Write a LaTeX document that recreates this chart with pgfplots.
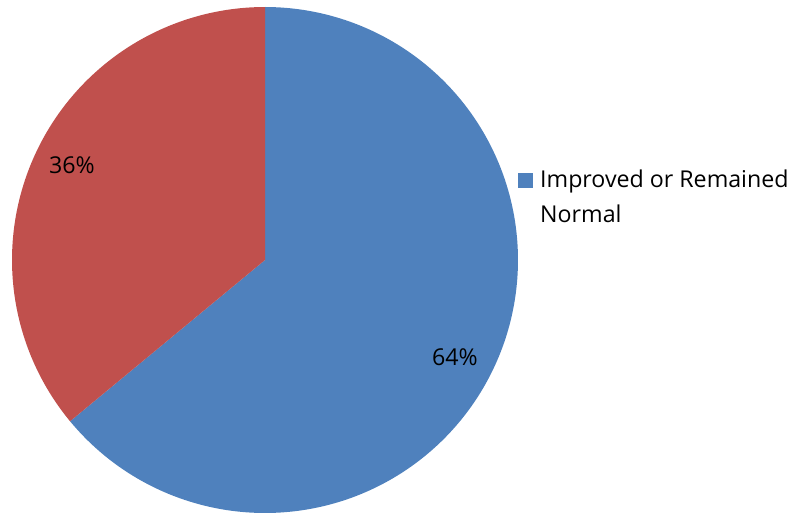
\documentclass[border=0pt]{standalone}
\usepackage{pgfplots}
\pgfplotsset{compat=1.18}
\usepackage{fontspec}
\setmainfont{Open Sans}
\definecolor{pieblue}{HTML}{4F81BD}
\definecolor{piered}{HTML}{C0504D}
% share of cases, in percent
\def\improved{64}
\def\other{36}
\newcommand\lblfont{\fontsize{23.2}{30}\selectfont}
\begin{document}
\begin{tikzpicture}[x=1pt,y=1pt]
\useasboundingbox (0,0) rectangle (790,512);
\begin{axis}[
  at={(12pt,-1pt)}, anchor=south west,
  scale only axis, width=506pt, height=506pt,
  xmin=-1, xmax=1, ymin=-1, ymax=1,
  hide axis, clip=false,
]
% slices run clockwise from twelve o'clock
\addplot[draw=none, fill=pieblue, domain=90:90-3.6*\improved, samples=240, variable=\t]
  ({cos(\t)},{sin(\t)}) -- (axis cs:0,0) -- cycle;
\addplot[draw=none, fill=piered, domain=90-3.6*\improved:-270, samples=160, variable=\t]
  ({cos(\t)},{sin(\t)}) -- (axis cs:0,0) -- cycle;
\node[font=\lblfont] at (axis cs:-0.763,0.375) {\other\%};
\node[font=\lblfont] at (axis cs:0.751,-0.383) {\improved\%};
\end{axis}
% legend
\fill[pieblue] (517.5,323.5) rectangle (532.5,338.5);
\node[anchor=base west, inner sep=0pt, font=\lblfont] at (540,324.7) {Improved or Remained};
\node[anchor=base west, inner sep=0pt, font=\lblfont] at (540,289.3) {Normal};
\end{tikzpicture}
\end{document}
